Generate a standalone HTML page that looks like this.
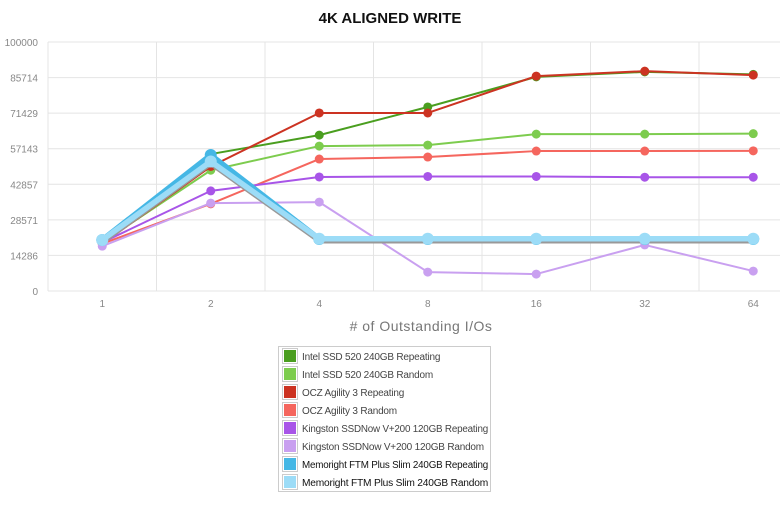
<!DOCTYPE html>
<html><head><meta charset="utf-8"><style>
body{margin:0;background:#fff;width:780px;height:516px;overflow:hidden;font-family:"Liberation Sans",sans-serif}
</style></head><body>
<svg id="chart" width="780" height="516" xmlns="http://www.w3.org/2000/svg">
<text x="390" y="23" text-anchor="middle" font-size="15" font-weight="bold" fill="#111">4K ALIGNED WRITE</text>
<g id="grid"></g><g id="series"></g><g id="legend"></g>
<text x="421" y="331" text-anchor="middle" font-size="14" fill="#777" letter-spacing="0.5"># of Outstanding I/Os</text>
</svg>
<script>
const categories=["1","2","4","8","16","32","64"];
const yTicks=[0,14286,28571,42857,57143,71429,85714,100000];
const names=["Intel SSD 520 240GB Repeating","Intel SSD 520 240GB Random","OCZ Agility 3 Repeating","OCZ Agility 3 Random","Kingston SSDNow V+200 120GB Repeating","Kingston SSDNow V+200 120GB Random","Memoright FTM Plus Slim 240GB Repeating","Memoright FTM Plus Slim 240GB Random"];
const colors=["#4a9e1f","#7dcc4e","#cc3322","#f5665e","#a855e8","#c9a0f0","#45b7e5","#9cdcf7"];
const intelRep=[19500,55000,62600,73900,86000,88000,87000];
const intelRand=[19500,48500,58200,58600,63000,63000,63200];
const oczRep=[19000,50000,71500,71500,86300,88300,86700];
const oczRand=[19000,35000,53000,53800,56200,56200,56300];
const kingRep=[19500,40200,45800,46000,46000,45700,45700];
const kingRand=[18000,35300,35700,7600,6800,18500,8000];
const memoRep=[20500,54600,20900,20900,20900,20900,20900];
const memoRand=[20500,52000,21000,21000,21000,21000,21000];
const seriesData=[intelRep,intelRand,oczRep,oczRand,kingRep,kingRand,memoRep,memoRand];
const NS="http://www.w3.org/2000/svg";
const L=48,T=42,B=291,band=108.5,yMax=100000;
const x=i=>L+band*(i+0.5);
const y=v=>B-(v/yMax)*(B-T);
function mk(tag,attrs,parent){const e=document.createElementNS(NS,tag);for(const k in attrs)e.setAttribute(k,attrs[k]);parent.appendChild(e);return e;}
const grid=document.getElementById('grid');
yTicks.forEach(t=>{
  const l=mk('line',{x1:L,x2:780,y1:y(t),y2:y(t),stroke:'#e4e4e4','stroke-width':1},grid);
  
  
  const tx=mk('text',{x:38,y:y(t)+4,'text-anchor':'end','font-size':10,fill:'#888'},grid);
  tx.textContent=t;
  
  
});
for(let i=0;i<=categories.length;i++){
  const l=mk('line',{x1:L+band*i,x2:L+band*i,y1:T,y2:B,stroke:'#e4e4e4','stroke-width':1},grid);
  
  
}
categories.forEach((c,i)=>{
  const tx=mk('text',{x:x(i),y:307,'text-anchor':'middle','font-size':10,fill:'#888'},grid);
  tx.textContent=c;
  
  
});
const sg=document.getElementById('series');
seriesData.forEach((d,s)=>{
  const g=mk('g',{},sg);
  
  
  const thick=s>=6;
  const pts=d.map((v,i)=>x(i)+','+y(v)).join(' ');
  if(thick){const sh=mk('polyline',{points:pts,fill:'none',stroke:'#999','stroke-width':5,transform:'translate(0,2)'},g);
    
    }
  const pl=mk('polyline',{points:pts,fill:'none',stroke:colors[s],'stroke-width':thick?5.5:2,'stroke-linejoin':'round'},g);
  
  
  d.forEach((v,i)=>{
    const c=mk('circle',{cx:x(i),cy:y(v),r:thick?6:4.5,fill:colors[s]},g);
    
    
  });
});
const lg=document.getElementById('legend');
const box=mk('rect',{x:278.5,y:346.5,width:212,height:145,fill:'#fff',stroke:'#ccc'},lg);


names.forEach((n,i)=>{
  const cy=356+i*18;
  const g=mk('g',{},lg);
  
  
  mk('rect',{x:282.5,y:cy-7.5,width:15,height:15,fill:'#fff',stroke:'#ccc'},g);
  mk('rect',{x:284,y:cy-6,width:12,height:12,fill:colors[i]},g);
  const t=mk('text',{x:302,y:cy+4,'font-size':10,'letter-spacing':-0.2,fill:i>=6?'#111':'#444'},g);
  t.textContent=n;
  if(n.length>=36){t.setAttribute('textLength',186);t.setAttribute('lengthAdjust','spacingAndGlyphs');}
});
</script>
</body></html>
